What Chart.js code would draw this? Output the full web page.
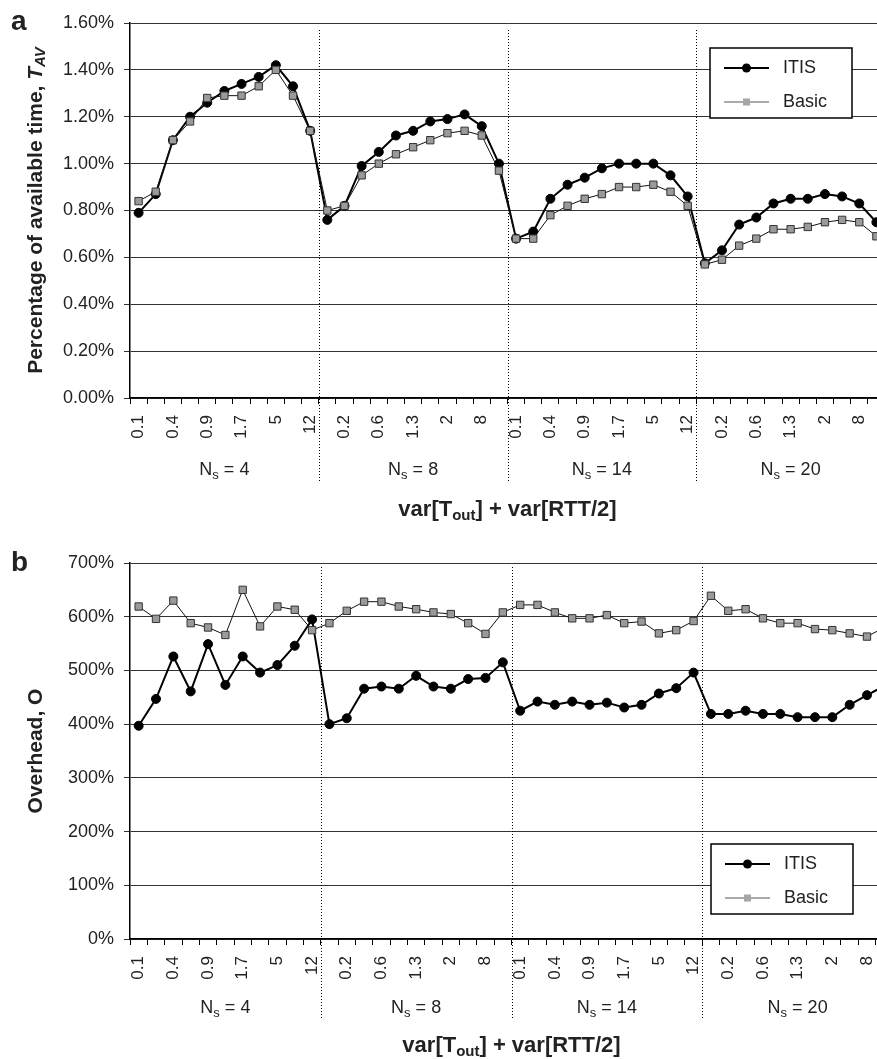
<!DOCTYPE html>
<html>
<head>
<meta charset="utf-8">
<script src="https://cdn.jsdelivr.net/npm/chart.js@4"></script>
<style>
html, body { margin: 0; padding: 0; background: #fff; overflow: hidden; }
#wrap { position: relative; width: 877px; height: 1059px; overflow: hidden; }
.box { position: absolute; left: 0; width: 920px; }
#boxA { top: 0; height: 530px; }
#boxB { top: 530px; height: 529px; }
</style>
</head>
<body>
<div id="wrap">
  <div class="box" id="boxA"><canvas id="chartA" width="920" height="530"></canvas></div>
  <div class="box" id="boxB"><canvas id="chartB" width="920" height="529"></canvas></div>
</div>
<script>
// x axis: var[Tout] + var[RTT/2], repeated for each number of sources Ns
var varValues = ['0.1', '0.2', '0.4', '0.6', '0.9', '1.3', '1.7', '2', '5', '8', '12'];
var nsGroups = ['4', '8', '14', '20'];

// panel a: percentage of available time T_AV (in %)
var itisTav = [0.79, 0.87, 1.10, 1.20, 1.26, 1.31, 1.34, 1.37, 1.42, 1.33, 1.14,
               0.76, 0.82, 0.99, 1.05, 1.12, 1.14, 1.18, 1.19, 1.21, 1.16, 1.00,
               0.68, 0.71, 0.85, 0.91, 0.94, 0.98, 1.00, 1.00, 1.00, 0.95, 0.86,
               0.575, 0.63, 0.74, 0.77, 0.83, 0.85, 0.85, 0.87, 0.86, 0.83, 0.75];
var basicTav = [0.84, 0.88, 1.10, 1.18, 1.28, 1.29, 1.29, 1.33, 1.40, 1.29, 1.14,
                0.80, 0.82, 0.95, 1.00, 1.04, 1.07, 1.10, 1.13, 1.14, 1.12, 0.97,
                0.68, 0.68, 0.78, 0.82, 0.85, 0.87, 0.90, 0.90, 0.91, 0.88, 0.82,
                0.57, 0.59, 0.65, 0.68, 0.72, 0.72, 0.73, 0.75, 0.76, 0.75, 0.69];

// panel b: overhead O (in %)
var itisOverhead = [397, 447, 526, 461, 549, 473, 526, 496, 510, 546, 595,
                    400, 411, 466, 470, 466, 490, 470, 466, 484, 486, 515,
                    425, 442, 436, 442, 436, 440, 431, 436, 457, 467, 496,
                    419, 419, 425, 419, 419, 413, 413, 413, 436, 454, 471];
var basicOverhead = [619, 596, 630, 588, 580, 566, 650, 582, 619, 613, 575,
                     588, 611, 628, 628, 619, 614, 608, 605, 588, 568, 608,
                     622, 622, 608, 597, 597, 603, 588, 591, 569, 575, 592,
                     639, 611, 614, 597, 588, 588, 577, 575, 569, 563, 580];

var labels = [];
nsGroups.forEach(function () {
  varValues.forEach(function (v) { labels.push(v); });
});

var FONT = "'Liberation Sans', Arial, Helvetica, sans-serif";

// draw a line of text made of several font runs (for subscripts), centred on x
function drawRich(ctx, parts, x, y) {
  var total = 0;
  parts.forEach(function (p) { ctx.font = p[1]; total += ctx.measureText(p[0]).width; });
  var cx = x - total / 2;
  parts.forEach(function (p) {
    ctx.font = p[1];
    ctx.fillText(p[0], cx, y + (p[2] || 0));
    cx += ctx.measureText(p[0]).width;
  });
}

function drawLegend(ctx, x, y) {
  ctx.save();
  ctx.fillStyle = '#fff';
  ctx.fillRect(x, y, 142, 70);
  ctx.strokeStyle = '#000';
  ctx.lineWidth = 1.5;
  ctx.strokeRect(x, y, 142, 70);
  // ITIS
  ctx.lineWidth = 2;
  ctx.beginPath(); ctx.moveTo(x + 14, y + 20); ctx.lineTo(x + 59, y + 20); ctx.stroke();
  ctx.fillStyle = '#000';
  ctx.beginPath(); ctx.arc(x + 36.5, y + 20, 4.5, 0, Math.PI * 2); ctx.fill();
  // Basic
  ctx.strokeStyle = '#aaa';
  ctx.beginPath(); ctx.moveTo(x + 14, y + 54); ctx.lineTo(x + 59, y + 54); ctx.stroke();
  ctx.fillStyle = '#a6a6a6';
  ctx.fillRect(x + 33, y + 50.5, 7, 7);
  ctx.fillStyle = '#222';
  ctx.font = '18px ' + FONT;
  ctx.textBaseline = 'middle';
  ctx.textAlign = 'left';
  ctx.fillText('ITIS', x + 73, y + 20);
  ctx.fillText('Basic', x + 73, y + 54);
  ctx.restore();
}

var decor = {
  id: 'decor',
  afterDraw: function (chart, args, o) {
    var ctx = chart.ctx, area = chart.chartArea, xs = chart.scales.x;
    var n = varValues.length;
    ctx.save();
    ctx.fillStyle = '#222';
    ctx.textBaseline = 'middle';
    ctx.textAlign = 'left';
    ctx.font = 'bold 28px ' + FONT;
    ctx.fillText(o.letter, 11, o.letterY);

    // dotted separators between the Ns groups
    ctx.strokeStyle = '#000';
    ctx.lineWidth = 1;
    ctx.setLineDash([1, 2]);
    for (var g = 1; g < nsGroups.length; g++) {
      var sx = Math.round((xs.getPixelForValue(g * n - 1) + xs.getPixelForValue(g * n)) / 2) + 0.5;
      ctx.beginPath();
      ctx.moveTo(sx, area.top + o.sepTop);
      ctx.lineTo(sx, o.groupY + 12);
      ctx.stroke();
    }
    ctx.setLineDash([]);

    nsGroups.forEach(function (ns, i) {
      var cx = (xs.getPixelForValue(i * n) + xs.getPixelForValue(i * n + n - 1)) / 2;
      drawRich(ctx, [['N', '18px ' + FONT], ['s', '13px ' + FONT, 5], [' = ' + ns, '18px ' + FONT]], cx, o.groupY);
    });

    drawRich(ctx, [['var[T', 'bold 22px ' + FONT], ['out', 'bold 15px ' + FONT, 6],
                   ['] + var[RTT/2]', 'bold 22px ' + FONT]], (area.left + area.right) / 2, o.titleY);

    ctx.translate(36, (area.top + area.bottom) / 2);
    ctx.rotate(-Math.PI / 2);
    drawRich(ctx, o.yTitle, 0, 0);
    ctx.restore();

    drawLegend(ctx, o.legendX, o.legendY);
  }
};

function makeChart(id, itis, basic, yMax, yStep, fmt, box, deco) {
  return new Chart(document.getElementById(id), {
    type: 'line',
    data: {
      labels: labels,
      datasets: [{
        label: 'ITIS',
        data: itis,
        order: 2,
        borderColor: '#000',
        borderWidth: 2,
        pointRadius: 4.5,
        pointBackgroundColor: '#000',
        pointBorderColor: '#000',
        pointBorderWidth: 1,
        tension: 0
      }, {
        label: 'Basic',
        data: basic,
        order: 1,
        borderColor: '#111',
        borderWidth: 1,
        pointStyle: 'rect',
        pointRadius: 5.2,
        pointBackgroundColor: '#9a9a9a',
        pointBorderColor: '#333',
        pointBorderWidth: 1,
        tension: 0
      }]
    },
    options: {
      responsive: false,
      animation: false,
      layout: { padding: { left: 0, top: box.top, right: box.right, bottom: 0 } },
      plugins: {
        legend: { display: false },
        tooltip: { enabled: false },
        decor: deco
      },
      scales: {
        x: {
          offset: true,
          grid: { offset: true, drawOnChartArea: false, drawTicks: true, tickLength: 6, color: '#000' },
          border: { color: '#000', width: 1.5 },
          ticks: {
            autoSkip: false,
            maxRotation: 90,
            minRotation: 90,
            padding: 11,
            color: '#222',
            font: { family: FONT, size: 17 },
            callback: function (val, i) { return i % 2 === 0 ? this.getLabelForValue(val) : ''; }
          },
          afterFit: function (s) { s.height = box.xHeight; }
        },
        y: {
          min: 0,
          max: yMax,
          grid: { color: '#333', lineWidth: 1, tickLength: 6 },
          border: { color: '#000', width: 1.5 },
          ticks: {
            stepSize: yStep,
            padding: 10,
            color: '#222',
            font: { family: FONT, size: 18 },
            callback: fmt
          },
          afterFit: function (s) { s.width = 130; }
        }
      }
    },
    plugins: [decor]
  });
}

makeChart('chartA', itisTav, basicTav, 1.6, 0.2,
  function (v) { return v.toFixed(2) + '%'; },
  { top: 23, right: 35, xHeight: 132 },
  {
    letter: 'a', letterY: 22, sepTop: 7, groupY: 470, titleY: 510,
    legendX: 710, legendY: 48,
    yTitle: [['Percentage of available time, ', 'bold 21px ' + FONT],
             ['T', 'italic bold 21px ' + FONT], ['AV', 'italic bold 15px ' + FONT, 5]]
  });

makeChart('chartB', itisOverhead, basicOverhead, 700, 100,
  function (v) { return v + '%'; },
  { top: 33, right: 27, xHeight: 120 },
  {
    letter: 'b', letterY: 33, sepTop: 4, groupY: 478, titleY: 516,
    legendX: 711, legendY: 314,
    yTitle: [['Overhead, O', 'bold 21px ' + FONT]]
  });
</script>
</body>
</html>
